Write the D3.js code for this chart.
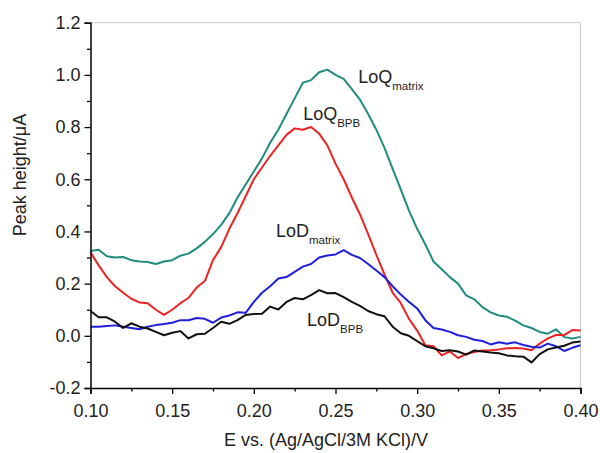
<!DOCTYPE html>
<html>
<head>
<meta charset="utf-8">
<script src="https://cdn.jsdelivr.net/npm/d3@7"></script>
<style>
  body { margin: 0; background: #fff; }
  svg { display: block; font-family: "Liberation Sans", Arial, sans-serif; }
</style>
</head>
<body>
<svg id="chart" width="600" height="453"></svg>
<script>
// potential, V
const potentials = [
  0.100, 0.105, 0.110, 0.115, 0.120, 0.125, 0.130, 0.135, 0.140, 0.145,
  0.150, 0.155, 0.160, 0.165, 0.170, 0.175, 0.180, 0.185, 0.190, 0.195,
  0.200, 0.205, 0.210, 0.215, 0.220, 0.225, 0.230, 0.235, 0.240, 0.245,
  0.250, 0.255, 0.260, 0.265, 0.270, 0.275, 0.280, 0.285, 0.290, 0.295,
  0.300, 0.305, 0.310, 0.315, 0.320, 0.325, 0.330, 0.335, 0.340, 0.345,
  0.350, 0.355, 0.360, 0.365, 0.370, 0.375, 0.380, 0.385, 0.390, 0.395,
  0.400
]

const loqMatrix = [
  0.325, 0.330, 0.305, 0.300, 0.302, 0.290, 0.285, 0.283, 0.275, 0.285,
  0.290, 0.307, 0.315, 0.335, 0.360, 0.390, 0.425, 0.470, 0.530, 0.580,
  0.630, 0.680, 0.740, 0.790, 0.850, 0.910, 0.970, 0.980, 1.010, 1.020,
  1.000, 0.985, 0.945, 0.905, 0.850, 0.790, 0.720, 0.640, 0.560, 0.480,
  0.410, 0.350, 0.285, 0.255, 0.225, 0.200, 0.155, 0.140, 0.110, 0.090,
  0.078, 0.073, 0.058, 0.040, 0.030, 0.015, 0.008, 0.025, -0.005, -0.010,
  -0.004
]

const loqBPB = [
  0.320, 0.270, 0.225, 0.190, 0.165, 0.142, 0.128, 0.125, 0.100, 0.080,
  0.100, 0.125, 0.145, 0.185, 0.210, 0.290, 0.340, 0.410, 0.470, 0.535,
  0.600, 0.645, 0.690, 0.730, 0.770, 0.795, 0.790, 0.800, 0.775, 0.730,
  0.660, 0.600, 0.530, 0.465, 0.390, 0.310, 0.235, 0.165, 0.125, 0.065,
  0.020, -0.036, -0.040, -0.075, -0.060, -0.085, -0.070, -0.062, -0.056, -0.055,
  -0.052, -0.048, -0.047, -0.049, -0.055, -0.030, -0.010, 0.003, 0.003, 0.022,
  0.020
]

const lodMatrix = [
  0.035, 0.035, 0.038, 0.040, 0.035, 0.030, 0.025, 0.035, 0.041, 0.045,
  0.050, 0.060, 0.060, 0.068, 0.065, 0.050, 0.070, 0.078, 0.090, 0.088,
  0.130, 0.165, 0.190, 0.220, 0.225, 0.245, 0.265, 0.275, 0.300, 0.308,
  0.312, 0.328, 0.310, 0.298, 0.275, 0.250, 0.225, 0.190, 0.158, 0.130,
  0.105, 0.060, 0.030, 0.024, 0.015, 0.002, -0.004, -0.015, -0.020, -0.033,
  -0.025, -0.030, -0.025, -0.035, -0.042, -0.045, -0.030, -0.040, -0.058, -0.046,
  -0.036
]

const lodBPB = [
  0.095, 0.071, 0.071, 0.054, 0.030, 0.048, 0.035, 0.028, 0.015, 0.002,
  0.012, 0.018, -0.010, 0.006, 0.008, 0.030, 0.054, 0.046, 0.060, 0.080,
  0.084, 0.085, 0.112, 0.101, 0.130, 0.145, 0.140, 0.156, 0.175, 0.163,
  0.164, 0.148, 0.130, 0.115, 0.095, 0.083, 0.075, 0.035, 0.010, 0.000,
  -0.020, -0.040, -0.048, -0.058, -0.055, -0.060, -0.072, -0.056, -0.060, -0.064,
  -0.067, -0.075, -0.078, -0.080, -0.102, -0.070, -0.052, -0.045, -0.038, -0.026,
  -0.022
]

const seriesNames = ['LoQ matrix', 'LoQ BPB', 'LoD matrix', 'LoD BPB']
const seriesValues = [loqMatrix, loqBPB, lodMatrix, lodBPB]
const seriesColors = ['#1f8c7f', '#ec2424', '#1f1fdc', '#111111']

const xTicks = [0.10, 0.15, 0.20, 0.25, 0.30, 0.35, 0.40]
const xMinorTicks = [0.125, 0.175, 0.225, 0.275, 0.325, 0.375]
const yTicks = [-0.2, 0.0, 0.2, 0.4, 0.6, 0.8, 1.0, 1.2]
const yMinorTicks = [-0.1, 0.1, 0.3, 0.5, 0.7, 0.9, 1.1]

// curve labels: main text, subscript, anchor (x in V, y in uA)
const labelMain = ['LoQ', 'LoQ', 'LoD', 'LoD']
const labelSub = ['matrix', 'BPB', 'matrix', 'BPB']
const labelAt = [[0.2639, 0.970], [0.2302, 0.827], [0.2135, 0.380], [0.2326, 0.039]]

const margin = { top: 22.7, right: 19.5, bottom: 65, left: 90.5 }
const width = 600 - margin.left - margin.right
const height = 453 - margin.top - margin.bottom

const svg = d3.select('#chart')
const g = svg.append('g').attr('transform', `translate(${margin.left},${margin.top})`)

const x = d3.scaleLinear().domain([0.10, 0.40]).range([0, width])
const y = d3.scaleLinear().domain([-0.2, 1.2]).range([height, 0])

// frame top / right
g.append('line').attr('x1', 0).attr('x2', width).attr('y1', 0).attr('y2', 0)
  .attr('stroke', '#c8c8c8').attr('stroke-width', 1)
g.append('line').attr('x1', width).attr('x2', width).attr('y1', 0).attr('y2', height)
  .attr('stroke', '#c8c8c8').attr('stroke-width', 1)

// lines
const line = d3.line()
  .x((d, i) => x(potentials[i]))
  .y(d => y(d))

seriesValues.forEach((vals, k) => {
  g.append('path')
    .datum(vals)
    .attr('fill', 'none')
    .attr('stroke', seriesColors[k])
    .attr('stroke-width', 2)
    .attr('stroke-linejoin', 'round')
    .attr('d', line)
    .attr('class', 'series')
    .attr('data-name', seriesNames[k])
})

// axes
function styleAxis (sel) {
  sel.select('.domain').attr('stroke', '#000').attr('stroke-width', 1.5)
  sel.selectAll('.tick line').attr('stroke', '#000').attr('stroke-width', 1.3)
  sel.selectAll('.tick text').attr('fill', '#222').style('font-size', '18px')
}

const xAxis = g.append('g').attr('transform', `translate(0,${height})`)
  .call(d3.axisBottom(x).tickValues(xTicks).tickSize(6).tickPadding(10)
    .tickFormat(d => d.toFixed(2)))
styleAxis(xAxis)

g.append('g').attr('transform', `translate(0,${height})`)
  .call(d3.axisBottom(x).tickValues(xMinorTicks).tickSize(3.5).tickFormat(''))
  .call(s => s.select('.domain').remove())
  .selectAll('.tick line').attr('stroke', '#000').attr('stroke-width', 1.3)

const yAxis = g.append('g')
  .call(d3.axisLeft(y).tickValues(yTicks).tickSize(6).tickPadding(4)
    .tickFormat(d => d.toFixed(1)))
styleAxis(yAxis)

g.append('g')
  .call(d3.axisLeft(y).tickValues(yMinorTicks).tickSize(3.5).tickFormat(''))
  .call(s => s.select('.domain').remove())
  .selectAll('.tick line').attr('stroke', '#000').attr('stroke-width', 1.3)

// axis titles
svg.append('text')
  .attr('x', 326).attr('y', 446)
  .attr('text-anchor', 'middle')
  .style('font-size', '18px').attr('fill', '#222')
  .text('E vs. (Ag/AgCl/3M KCl)/V')

svg.append('text')
  .attr('transform', 'translate(26,175) rotate(-90)')
  .attr('text-anchor', 'middle')
  .style('font-size', '18px').attr('fill', '#222')
  .text('Peak height/μA')

// curve labels
labelMain.forEach((txt, k) => {
  const t = g.append('text')
    .attr('x', x(labelAt[k][0]))
    .attr('y', y(labelAt[k][1]))
    .style('font-size', '18px').attr('fill', '#222')
  t.append('tspan').text(txt)
  t.append('tspan').attr('dy', 7).style('font-size', '11.5px').text(labelSub[k])
})
</script>
</body>
</html>
